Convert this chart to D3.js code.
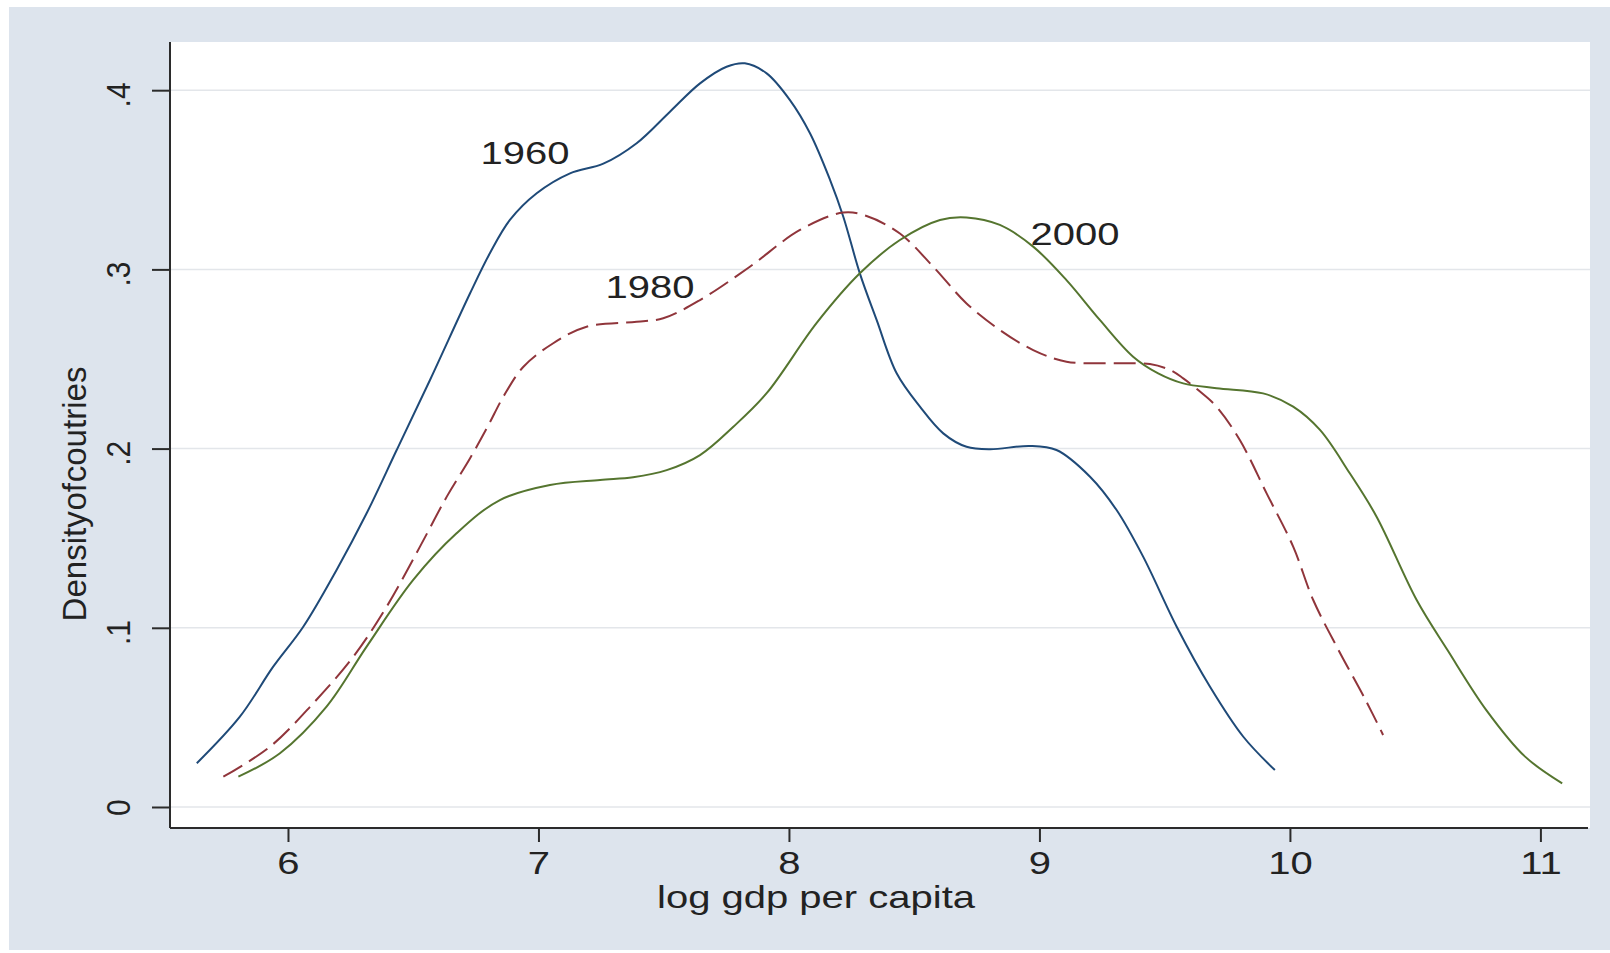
<!DOCTYPE html>
<html>
<head>
	<meta charset="utf-8">
	<style>
		body { margin: 0; background: #fff; }
		svg { display: block; font-family: "Liberation Sans", Arial, sans-serif; }
		.grid line { stroke: #e3e6ea; stroke-width: 1.5; }
		.axis path, .axis line { stroke: #2b2b2b; stroke-width: 2; }
		.axis text { fill: #222; }
	</style>
</head>
<body>
	<script src="https://cdn.jsdelivr.net/npm/d3@7"></script>
	<script>
	// kernel density of log gdp per capita
	var x1960 = [5.636,5.808,5.941,6.061,6.194,6.314,6.434,6.567,6.727,6.806,6.886,6.993,7.126,7.259,7.392,7.525,7.645,7.751,7.824,7.911,8.004,8.084,8.164,8.217,8.283,8.35,8.43,8.523,8.616,8.709,8.802,8.962,9.068,9.202,9.308,9.414,9.548,9.681,9.814,9.94];
	var d1960 = [.0244,.0504,.0783,.1006,.1323,.1639,.1992,.2383,.2867,.309,.3276,.3425,.3536,.359,.3704,.388,.4038,.4131,.415,.4094,.3945,.376,.350,.3294,.2978,.2718,.242,.2234,.2085,.201,.1996,.2015,.1992,.1843,.1657,.1397,.1006,.0671,.0392,.0206];

	var x1980 = [5.742,5.928,6.101,6.261,6.394,6.527,6.634,6.727,6.80,6.86,6.94,7.059,7.192,7.392,7.498,7.645,7.844,8.044,8.217,8.31,8.443,8.576,8.709,8.842,8.975,9.108,9.308,9.441,9.521,9.574,9.641,9.707,9.8,9.907,10.013,10.093,10.194,10.302,10.372];
	var d1980 = [.0169,.0336,.0579,.0839,.1118,.1453,.1732,.1946,.213,.229,.2457,.2588,.268,.2708,.2727,.2829,.3015,.322,.3317,.3298,.320,.3015,.281,.2662,.255,.2485,.2476,.2472,.2439,.2392,.2318,.2234,.2048,.175,.1453,.1155,.0876,.0597,.0402];

	var x2000 = [5.802,5.968,6.154,6.314,6.5,6.673,6.846,7.046,7.246,7.378,7.512,7.645,7.778,7.911,8.11,8.283,8.443,8.603,8.709,8.842,8.975,9.108,9.241,9.374,9.474,9.574,9.707,9.893,10.013,10.12,10.239,10.346,10.506,10.629,10.784,10.939,11.087];
	var d2000 = [.0169,.03,.056,.0895,.1267,.1527,.1713,.1797,.1825,.184,.188,.1964,.2122,.2309,.270,.2978,.3164,.3276,.329,.3248,.3127,.294,.2718,.2513,.242,.2364,.2337,.2308,.2234,.2104,.1862,.162,.1155,.0876,.0541,.0281,.0132];

	var years = ["1960", "1980", "2000"];
	var labelX = [6.946, 7.445, 9.142];   // where the year labels sit, in data units
	var labelY = [0.3588, 0.284, 0.3136];

	var xTicks = [6, 7, 8, 9, 10, 11];
	var yTicks = [0, 0.1, 0.2, 0.3, 0.4];
	var yTickLabels = ["0", ".1", ".2", ".3", ".4"];

	var colors = ["#1f4a78", "#90353b", "#55752f"];

	var W = 1610, H = 953;
	var plotL = 170, plotR = 1590, plotT = 42, plotB = 828;

	var svg = d3.select("body").append("svg")
		.attr("width", W)
		.attr("height", H);

	// graph region
	svg.append("rect")
		.attr("x", 9).attr("y", 7)
		.attr("width", W - 9).attr("height", H - 10)
		.attr("fill", "#dde4ed");

	// plot region
	svg.append("rect")
		.attr("x", plotL).attr("y", plotT)
		.attr("width", plotR - plotL).attr("height", plotB - plotT)
		.attr("fill", "#fff");

	var x = d3.scaleLinear().domain([5.529, 11.198]).range([plotL, plotR]);
	var y = d3.scaleLinear().domain([-0.01172, 0.42689]).range([plotB, plotT]);

	svg.append("g").attr("class", "grid")
		.selectAll("line").data(yTicks).enter()
		.append("line")
		.attr("x1", plotL).attr("x2", plotR)
		.attr("y1", function(d) { return y(d); })
		.attr("y2", function(d) { return y(d); });

	var series = [
		{ xs: x1960, ds: d1960 },
		{ xs: x1980, ds: d1980 },
		{ xs: x2000, ds: d2000 }
	];

	var line = d3.line()
		.x(function(p) { return x(p[0]); })
		.y(function(p) { return y(p[1]); })
		.curve(d3.curveCatmullRom.alpha(0.5));

	svg.selectAll("path.kd").data(series).enter()
		.append("path")
		.attr("class", "kd")
		.attr("fill", "none")
		.attr("stroke-width", 2)
		.attr("stroke", function(d, i) { return colors[i]; })
		.attr("stroke-dasharray", function(d, i) { return i == 1 ? "22,8" : null; })
		.attr("d", function(d) { return line(d.xs.map(function(v, j) { return [v, d.ds[j]]; })); });

	// year labels (the picture is stretched sideways, so text is too)
	svg.selectAll("text.year").data(years).enter()
		.append("text")
		.attr("class", "year")
		.attr("text-anchor", "middle")
		.attr("font-size", 32)
		.attr("fill", "#222")
		.attr("transform", function(d, i) { return "translate(" + x(labelX[i]) + "," + y(labelY[i]) + ") scale(1.25,1)"; })
		.text(function(d) { return d; });

	// x axis
	var xAxis = svg.append("g").attr("class", "axis")
		.attr("transform", "translate(0," + plotB + ")")
		.call(d3.axisBottom(x).tickValues(xTicks).tickSize(14).tickSizeOuter(0).tickPadding(9)
			.tickFormat(d3.format("d")));
	xAxis.select(".domain").attr("d", "M" + plotL + ",0H" + (plotR - 2));
	xAxis.selectAll("text")
		.attr("font-size", 32)
		.attr("transform", "scale(1.25,1)");

	// y axis
	var yAxis = svg.append("g").attr("class", "axis")
		.attr("transform", "translate(" + plotL + ",0)")
		.call(d3.axisLeft(y).tickValues(yTicks).tickSize(18).tickSizeOuter(0)
			.tickFormat(function(d, i) { return yTickLabels[i]; }));
	yAxis.select(".domain").attr("d", "M0," + plotT + "V" + plotB);
	yAxis.selectAll("text")
		.attr("font-size", 30)
		.attr("x", null).attr("dy", null)
		.attr("text-anchor", "end")
		.attr("transform", "translate(-40,-8.3) scale(1.1,1) rotate(-90)");

	// axis titles
	svg.append("text")
		.attr("text-anchor", "middle")
		.attr("font-size", 32)
		.attr("fill", "#222")
		.attr("transform", "translate(" + ((plotL + plotR) / 2 - 64) + ",908) scale(1.25,1)")
		.text("log gdp per capita");

	svg.append("text")
		.attr("text-anchor", "middle")
		.attr("font-size", 27)
		.attr("fill", "#222")
		.attr("word-spacing", -7)
		.attr("textLength", 255)
		.attr("lengthAdjust", "spacingAndGlyphs")
		.attr("transform", "translate(86,494) scale(1.25,1) rotate(-90)")
		.text("Density of coutries");
	</script>
</body>
</html>
